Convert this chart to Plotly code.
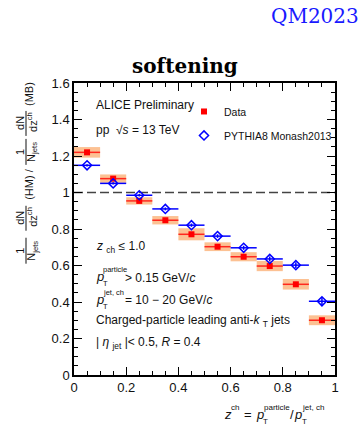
import plotly.graph_objects as go

# ---------------- data ----------------
z_bin_centers = [0.05, 0.15, 0.25, 0.35, 0.45, 0.55, 0.65, 0.75, 0.85, 0.95]
z_bin_halfwidth = [0.05] * 10
data_ratio = [1.220, 1.076, 0.954, 0.848, 0.771, 0.703, 0.648, 0.597, 0.497, 0.300]
data_stat = [0.004] * 10
data_syst = [0.029, 0.023, 0.020, 0.023, 0.033, 0.024, 0.025, 0.028, 0.029, 0.027]
pythia_ratio = [1.149, 1.050, 0.985, 0.910, 0.821, 0.761, 0.697, 0.636, 0.602, 0.404]
pythia_err = [0.006, 0.006, 0.007, 0.008, 0.009, 0.010, 0.011, 0.013, 0.016, 0.022]
unity_level = 1.0

# ---------------- layout helpers (pixel -> paper) ----------------
W, H = 362, 427
L, R, T, B = 74, 335, 83, 375.5
FONT = "Liberation Sans, Arial, sans-serif"


def px(x):
    return (x - L) / (R - L)


def py(y):
    return (B - y) / (B - T)


annotations = []
shapes = []


def ann(x, y, text, size=12, xanchor="left", angle=0, color="#111", family=FONT, yanchor="middle"):
    annotations.append(dict(
        x=px(x), y=py(y), xref="paper", yref="paper", text=text, showarrow=False,
        xanchor=xanchor, yanchor=yanchor, textangle=angle,
        font=dict(size=size, color=color, family=family), borderpad=0,
    ))


def vline(x, y0, y1, width=1):
    shapes.append(dict(type="line", xref="paper", yref="paper",
                       x0=px(x), x1=px(x), y0=py(y0), y1=py(y1),
                       line=dict(color="#111", width=width)))


fig = go.Figure()

# systematic boxes
fig.add_trace(go.Bar(
    x=z_bin_centers,
    y=[2 * s for s in data_syst],
    base=[v - s for v, s in zip(data_ratio, data_syst)],
    width=[2 * w for w in z_bin_halfwidth],
    marker=dict(color="rgba(252,182,128,0.85)", line=dict(width=0)),
    showlegend=False, hoverinfo="skip",
))

# data points
fig.add_trace(go.Scatter(
    x=z_bin_centers, y=data_ratio, mode="markers", name="Data",
    legendgroup="a",
    marker=dict(symbol="square", size=6, color="red"),
    error_x=dict(type="data", array=z_bin_halfwidth, width=0, thickness=1.5, color="rgb(255,40,30)"),
    error_y=dict(type="data", array=data_stat, width=0, thickness=1.5, color="red"),
))

# PYTHIA
fig.add_trace(go.Scatter(
    x=z_bin_centers, y=pythia_ratio, mode="markers", name="PYTHIA8 Monash2013",
    legendgroup="b",
    marker=dict(symbol="diamond-open", size=7, color="blue", line=dict(width=1.5, color="blue")),
    error_x=dict(type="data", array=z_bin_halfwidth, width=0, thickness=1.5, color="blue"),
    error_y=dict(type="data", array=pythia_err, width=0, thickness=1.5, color="blue"),
))

# dashed reference line at unity
shapes.append(dict(type="line", xref="paper", yref="y", x0=0, x1=1,
                   y0=unity_level, y1=unity_level,
                   line=dict(color="#444", width=1.5, dash="9px,4px"), layer="below"))

# ---------------- texts ----------------
ann(95, 105, "ALICE Preliminary", 12)
ann(95, 130, "pp  √<i>s</i> = 13 TeV", 12)

ann(95, 247, "<i>z</i> <sub>ch</sub> ≤ 1.0", 12)

ann(95, 277, "<i>p</i>", 13)
ann(102, 270, "particle", 7.5)
ann(102, 284, "T", 7.5)
ann(124, 278, "> 0.15 GeV/<i>c</i>", 12)

ann(95, 300, "<i>p</i>", 13)
ann(102, 293, "jet, ch", 7.5)
ann(102, 307, "T", 7.5)
ann(124, 300, "= 10 − 20 GeV/<i>c</i>", 12)

ann(95, 321, "Charged-particle leading anti-<i>k</i> <sub>T</sub> jets", 12)
ann(95, 343, "| <i>η</i> <sub>jet</sub> |< 0.5, <i>R</i> = 0.4", 12)

# x axis title
ann(223, 415, "<i>z</i>", 13)
ann(230, 408, "ch", 8)
ann(243, 415, "=", 13)
ann(255, 415, "<i>p</i>", 13)
ann(263, 408, "particle", 8)
ann(262, 422, "T", 8)
ann(289, 415, "/", 13)
ann(293, 415, "<i>p</i>", 13)
ann(301, 408, "jet, ch", 8)
ann(301, 422, "T", 8)

# y axis title (rotated, built from pieces)
ann(29, 94, "(MB)", 11, xanchor="center", angle=-90)
ann(20, 123, "dN", 11, xanchor="center", angle=-90)
ann(32, 122, "dz<sup>ch</sup>", 11, xanchor="center", angle=-90)
vline(26, 111, 136)
ann(20, 152, "1", 11, xanchor="center", angle=-90)
ann(32, 152, "N<sub>jets</sub>", 11, xanchor="center", angle=-90)
vline(26, 139, 165)
ann(29, 185, "(HM) /", 11, xanchor="center", angle=-90)
ann(20, 218, "dN", 11, xanchor="center", angle=-90)
ann(32, 217, "dz<sup>ch</sup>", 11, xanchor="center", angle=-90)
vline(26, 206, 231)
ann(20, 251, "1", 11, xanchor="center", angle=-90)
ann(32, 251, "N<sub>jets</sub>", 11, xanchor="center", angle=-90)
vline(26, 238, 264)

# title and conference tag
ann(185, 66, "<b>softening</b>", 20, xanchor="center", color="black",
    family="DejaVu Serif, serif")
ann(360, 16, "QM2023", 20, xanchor="right", color="rgb(25,25,255)",
    family="DejaVu Serif, serif")

axis_common = dict(
    showline=True, linecolor="black", linewidth=1.5, mirror="ticks",
    ticks="inside", ticklen=8, tickwidth=1.2, tickcolor="black",
    showgrid=False, zeroline=False,
    tickfont=dict(size=13, color="#111", family=FONT),
)

fig.update_layout(
    width=W, height=H,
    margin=dict(l=L, r=W - R, t=T, b=H - B, pad=0),
    paper_bgcolor="white", plot_bgcolor="white",
    barmode="overlay",
    xaxis=dict(range=[0, 1], dtick=0.2, tick0=0,
               minor=dict(dtick=0.05, ticks="inside", ticklen=4, tickcolor="black", tickwidth=1),
               **axis_common),
    yaxis=dict(range=[0, 1.6], dtick=0.2, tick0=0,
               minor=dict(dtick=0.05, ticks="inside", ticklen=4, tickcolor="black", tickwidth=1),
               **axis_common),
    legend=dict(x=px(184), y=py(97), xanchor="left", yanchor="top",
                bgcolor="rgba(0,0,0,0)", borderwidth=0, tracegroupgap=5,
                font=dict(size=10.5, color="#111", family=FONT)),
    annotations=annotations,
    shapes=shapes,
    hovermode=False,
)

fig.write_html("out.html")
